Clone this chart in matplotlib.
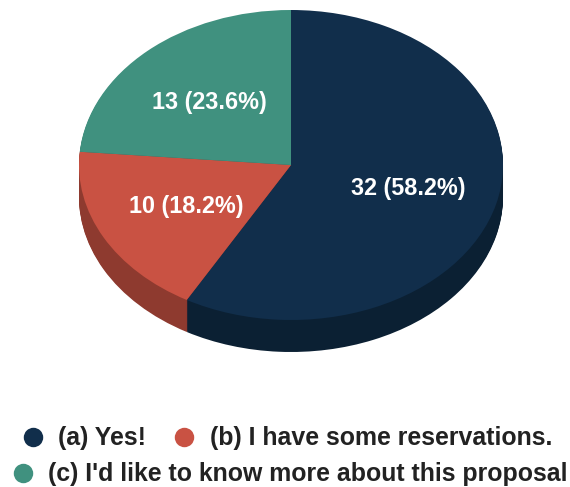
import matplotlib
matplotlib.use("Agg")
import matplotlib.pyplot as plt
from matplotlib.lines import Line2D

labels = ["(a) Yes!", "(b) I have some reservations.", "(c) I'd like to know more about this proposal"]
counts = [32, 10, 13]
percents = ["58.2%", "18.2%", "23.6%"]
colors = ["#112e4b", "#c95243", "#40917f"]
side_colors = ["#0b2033", "#8e3a2f", "#2d6659"]

plt.rcParams["font.family"] = ["Liberation Sans", "DejaVu Sans"]

W, H = 570, 487
cx, cy, rx, ry, depth = 291, 165, 212, 155, 32

fig = plt.figure(figsize=(W / 100, H / 100), dpi=100)
ax = fig.add_axes([0, 0, 1, 1])

# side of the pie: stack of darker pies, then the top one
k = 1 / ry
for d in range(depth, 0, -1):
    ax.pie(counts, colors=side_colors, startangle=90, counterclock=False,
           center=(0, -d * k), radius=1, frame=True)
wedges, _ = ax.pie(counts, colors=colors, startangle=90, counterclock=False,
                   center=(0, 0), radius=1, frame=True)

ax.set_aspect("auto")
ax.set_xlim(-cx / rx, (W - cx) / rx)
ax.set_ylim(-(H - cy) / ry, cy / ry)
ax.axis("off")

# slice labels
label_pos = [(408, 189), (186, 206), (209, 102)]
for c, p, (x, y) in zip(counts, percents, label_pos):
    ax.text((x - cx) / rx, (cy - y) / ry, f"{c} ({p})", color="white",
            fontsize=16.8, fontweight="bold", ha="center", va="center")

# legend drawn by hand, the rows are not aligned
marker_pos = [(33, 437), (184, 437), (23, 473)]
text_x = [58, 210, 48]
for lab, c, (mx, my), tx in zip(labels, colors, marker_pos, text_x):
    fig.add_artist(Line2D([mx / W], [1 - my / H], transform=fig.transFigure,
                          ls="", marker="o", ms=14, mew=0, color=c))
    fig.text(tx / W, 1 - (my + 1.5) / H, lab, color="#222222", fontsize=17.9,
             fontweight="bold", ha="left", va="center")

fig.savefig("out.png", dpi=100, facecolor="white")
